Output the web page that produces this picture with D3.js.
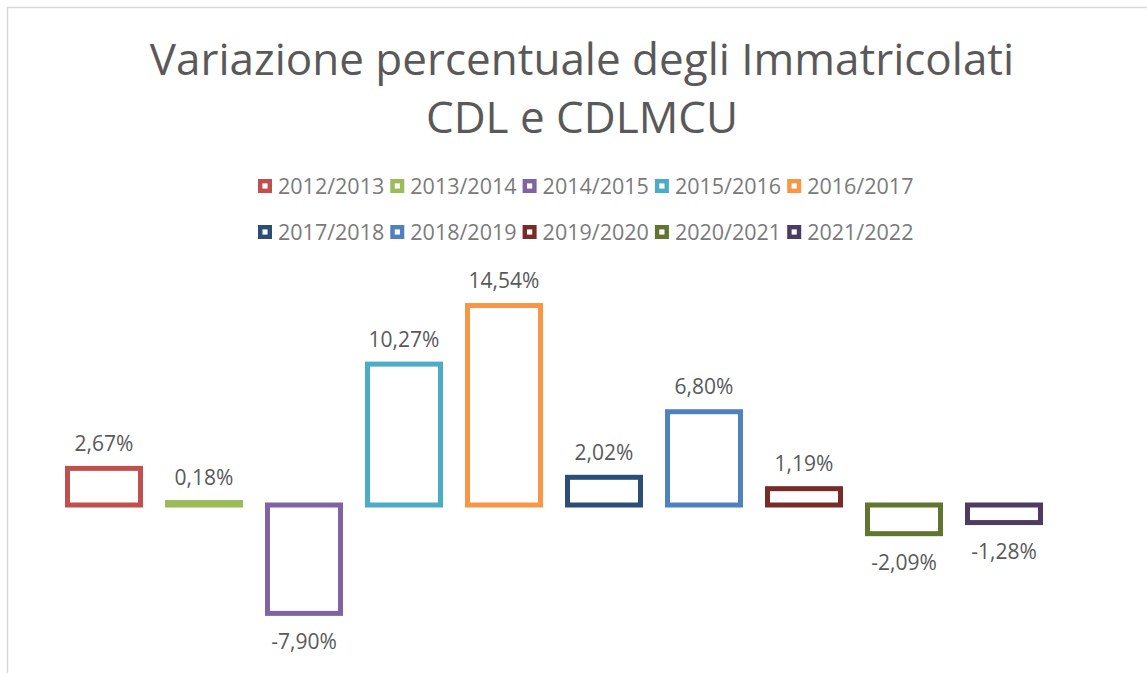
<!DOCTYPE html>
<html lang="it">
<head>
    <meta charset="UTF-8">
    <title>Variazione percentuale degli Immatricolati</title>
    <script src="https://d3js.org/d3.v7.min.js"></script>
    <style>
        body { margin: 0; background: #fff; font-family: "Open Sans", sans-serif; }
    </style>
</head>
<body>
    <div id="chart"></div>
    <script>
        const years = ['2012/2013', '2013/2014', '2014/2015', '2015/2016', '2016/2017',
                       '2017/2018', '2018/2019', '2019/2020', '2020/2021', '2021/2022'];
        const values = [2.67, 0.18, -7.90, 10.27, 14.54, 2.02, 6.80, 1.19, -2.09, -1.28];
        const colors = ['#C0504D', '#9BBB59', '#8064A2', '#4BACC6', '#F79646',
                        '#2C4D75', '#4F81BD', '#772C2A', '#5F7530', '#4D3B62'];
        const titleLines = ['Variazione percentuale degli Immatricolati', 'CDL e CDLMCU'];

        const width = 1147, height = 673;

        const svg = d3.select('#chart').append('svg')
            .attr('width', width)
            .attr('height', height);

        // chart frame
        svg.append('path')
            .attr('d', `M7.5,${height} V7.5 H${width}`)
            .attr('fill', 'none')
            .attr('stroke', '#d9d9d9')
            .attr('stroke-width', 1.5);

        // title
        svg.append('text')
            .attr('text-anchor', 'middle')
            .attr('fill', '#595959')
            .style('font-size', '44px')
            .selectAll('tspan')
            .data(titleLines)
            .enter().append('tspan')
            .attr('x', 582)
            .attr('y', (d, i) => 75 + i * 58)
            .text(d => d);

        // legend
        const legend = svg.append('g');
        const legendItems = legend.selectAll('g')
            .data(years)
            .enter().append('g')
            .attr('transform', (d, i) => `translate(${258 + (i % 5) * 132.3},${186 + Math.floor(i / 5) * 46})`);
        legendItems.append('rect')
            .attr('x', 2.2).attr('y', -4.8)
            .attr('width', 9.6).attr('height', 9.6)
            .attr('fill', '#fff')
            .attr('stroke', (d, i) => colors[i])
            .attr('stroke-width', 4.4);
        legendItems.append('text')
            .attr('x', 20)
            .attr('y', 7.5)
            .attr('fill', '#7a7a7a')
            .style('font-size', '21.5px')
            .text(d => d);

        // bars
        const x = d3.scaleBand()
            .domain(years)
            .range([54, 1054])
            .paddingInner(0.27)
            .paddingOuter(0.135);

        const y = d3.scaleLinear()
            .domain([-10, 16])
            .range([642.2, 285.5]);

        svg.append('g').selectAll('rect')
            .data(values)
            .enter().append('rect')
            .attr('x', (d, i) => x(years[i]))
            .attr('width', x.bandwidth())
            .attr('y', d => y(Math.max(0, d)))
            .attr('height', d => Math.abs(y(d) - y(0)))
            .attr('fill', '#fff')
            .attr('stroke', (d, i) => colors[i])
            .attr('stroke-width', 5);

        // data labels
        const fmt = d3.formatLocale({ decimal: ',', thousands: '.', grouping: [3], currency: ['€', ''], minus: '-' }).format('.2f');
        svg.append('g').selectAll('text')
            .data(values)
            .enter().append('text')
            .attr('x', (d, i) => x(years[i]) + x.bandwidth() / 2)
            .attr('y', d => d >= 0 ? y(d) - 17.5 : y(d) + 36)
            .attr('text-anchor', 'middle')
            .attr('fill', '#595959')
            .style('font-size', '21px')
            .text(d => fmt(d) + '%');
    </script>
</body>
</html>
